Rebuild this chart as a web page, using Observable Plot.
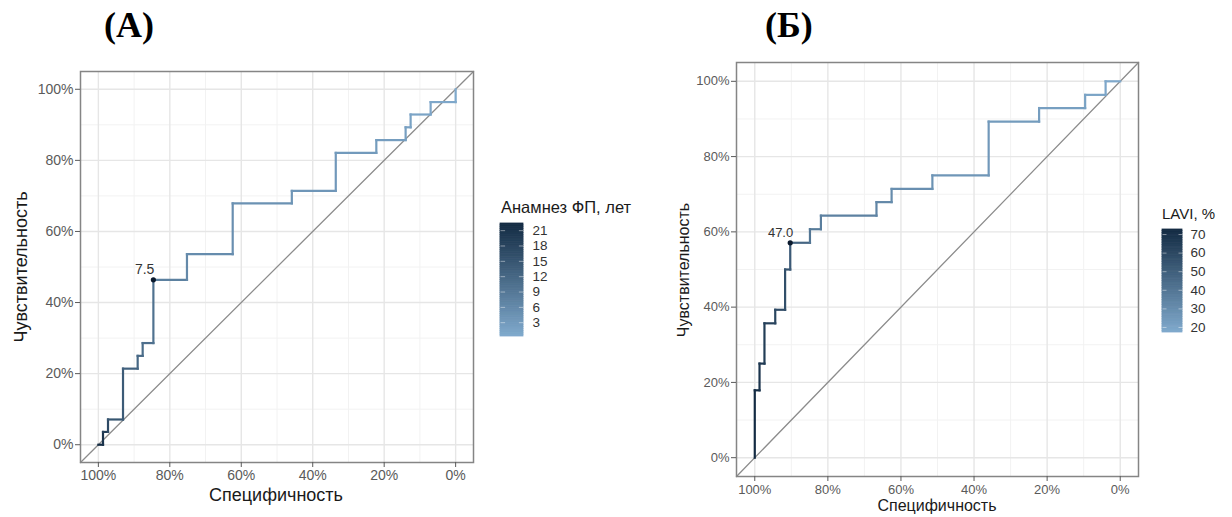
<!DOCTYPE html>
<html>
<head>
<meta charset="utf-8">
<script src="https://cdn.jsdelivr.net/npm/d3@7"></script>
<script src="https://cdn.jsdelivr.net/npm/@observablehq/plot@0.6"></script>
<style>
  html, body { margin: 0; padding: 0; background: #fff; }
  #root { position: relative; width: 1232px; height: 517px; overflow: hidden; background: #fff; font-family: "Liberation Sans", Arial, sans-serif; }
  .abs { position: absolute; }
  .title { font-family: "Liberation Serif", "Times New Roman", serif; font-weight: bold; font-size: 36px; color: #000; white-space: nowrap; line-height: 1; }
  .axt { color: #1a1a1a; white-space: nowrap; line-height: 1; }
  .rot { transform: translate(-50%, -50%) rotate(-90deg); }
  .ctr { transform: translate(-50%, -50%); }
  .legt { color: #1a1a1a; white-space: nowrap; line-height: 1; }
</style>
</head>
<body>
<div id="root"></div>
<script>
// ---------- data ----------
const pctTicks = [0, 0.2, 0.4, 0.6, 0.8, 1];
const minorTicks = [0.1, 0.3, 0.5, 0.7, 0.9];
const xDomain = [1.05, -0.05];
const yDomain = [-0.05, 1.05];

// Panel A: ROC path (specificity, sensitivity) and threshold (Анамнез ФП, лет)
const specA = [1, 0.987, 0.987, 0.973, 0.973, 0.931, 0.931, 0.890, 0.890, 0.876, 0.876, 0.846, 0.846, 0.752, 0.752, 0.624, 0.624, 0.4585, 0.4585, 0.3355, 0.3355, 0.222, 0.222, 0.140, 0.140, 0.126, 0.126, 0.070, 0.070, 0.0, 0.0];
const sensA = [0, 0, 0.036, 0.036, 0.071, 0.071, 0.214, 0.214, 0.25, 0.25, 0.286, 0.286, 0.464, 0.464, 0.536, 0.536, 0.679, 0.679, 0.714, 0.714, 0.821, 0.821, 0.857, 0.857, 0.893, 0.893, 0.929, 0.929, 0.964, 0.964, 1.0];
const thrA = [22.4, 21, 19, 17, 15, 14, 13, 12, 11.5, 11, 10.5, 10, 7.5, 6, 5.5, 5, 4.5, 4, 3.7, 3.4, 3.1, 2.8, 2.5, 2.2, 2, 1.7, 1.4, 1.1, 0.8, 0.5, 0.3];
const bestA = [{ spec: 0.846, sens: 0.464, label: "7.5" }];
const legendTicksA = [3, 6, 9, 12, 15, 18, 21];
const rangeA = [0.3, 22.4];

// Panel B: ROC path and threshold (LAVI, %)
const specB = [1, 1, 0.987, 0.987, 0.9735, 0.9735, 0.944, 0.944, 0.917, 0.917, 0.903, 0.903, 0.849, 0.849, 0.819, 0.819, 0.667, 0.667, 0.6256, 0.6256, 0.514, 0.514, 0.360, 0.360, 0.222, 0.222, 0.096, 0.096, 0.040, 0.040, 0];
const sensB = [0, 0.179, 0.179, 0.25, 0.25, 0.357, 0.357, 0.393, 0.393, 0.5, 0.5, 0.571, 0.571, 0.607, 0.607, 0.643, 0.643, 0.679, 0.679, 0.714, 0.714, 0.75, 0.75, 0.893, 0.893, 0.929, 0.929, 0.964, 0.964, 1.0, 1.0];
const thrB = [72.7, 71, 69, 67, 65, 63, 61, 59, 57, 55, 52, 47.0, 40, 38, 36.5, 35, 33.5, 32, 30.5, 29, 27.5, 26, 25, 24, 23, 22, 21, 20, 19, 18, 17.3];
const bestB = [{ spec: 0.903, sens: 0.571, label: "47.0" }];
const legendTicksB = [20, 30, 40, 50, 60, 70];
const rangeB = [17.3, 72.7];

const colorRange = ["#80aacd", "#132b43"];
const fontFamily = "'Liberation Sans', Arial, sans-serif";
const pct = d => Math.round(d * 100) + "%";

function rocPlot(cfg) {
  const n = cfg.spec.length;
  return Plot.plot({
    width: cfg.width, height: 517,
    marginLeft: cfg.ml, marginRight: cfg.mr, marginTop: cfg.mt, marginBottom: cfg.mb,
    style: { fontFamily, background: "transparent", overflow: "visible" },
    x: { domain: xDomain, axis: null },
    y: { domain: yDomain, axis: null },
    color: { type: "linear", domain: cfg.range, range: colorRange },
    marks: [
      Plot.gridX(minorTicks, { stroke: "#f2f2f2", strokeOpacity: 1, strokeWidth: 1 }),
      Plot.gridY(minorTicks, { stroke: "#f2f2f2", strokeOpacity: 1, strokeWidth: 1 }),
      Plot.gridX(pctTicks, { stroke: "#e6e6e6", strokeOpacity: 1, strokeWidth: 1.4 }),
      Plot.gridY(pctTicks, { stroke: "#e6e6e6", strokeOpacity: 1, strokeWidth: 1.4 }),
      Plot.line([0, 1], { x: i => xDomain[i], y: i => yDomain[i], stroke: "#8c8c8c", strokeWidth: 1.3 }),
      Plot.link(d3.range(n - 1), {
        x1: i => cfg.spec[i], y1: i => cfg.sens[i],
        x2: i => cfg.spec[i + 1], y2: i => cfg.sens[i + 1],
        stroke: i => cfg.thr[i], strokeWidth: 2.2, strokeLinecap: "square"
      }),
      Plot.dot(cfg.best, { x: "spec", y: "sens", r: 2.6, fill: "#0b1a2e", stroke: null }),
      Plot.text(cfg.best, { x: "spec", y: "sens", text: "label", textAnchor: "end", dx: cfg.ldx, dy: -10, fontSize: cfg.lfs, fill: "#333" }),
      Plot.frame({ stroke: "#858585", strokeWidth: 1.5 }),
      Plot.axisX(pctTicks, { tickSize: 5, tickPadding: cfg.tp, tickFormat: pct, fontSize: cfg.tfs, color: "#5a5a5a", label: null }),
      Plot.axisY(pctTicks, { tickSize: 5, tickPadding: 2, tickFormat: pct, fontSize: cfg.tfs, color: "#5a5a5a", label: null })
    ]
  });
}

function legendBar(cfg) {
  const steps = 60;
  const [lo, hi] = cfg.range;
  const slices = d3.range(steps).map(k => ({ a: lo + (hi - lo) * k / steps, b: lo + (hi - lo) * (k + 1) / steps }));
  return Plot.plot({
    width: cfg.barW + 40, height: cfg.barH + 10,
    marginLeft: 0, marginRight: 40, marginTop: 5, marginBottom: 5,
    style: { fontFamily, background: "transparent", overflow: "visible" },
    x: { domain: [0, 1], axis: null },
    y: { domain: cfg.range, axis: null },
    color: { type: "linear", domain: cfg.range, range: colorRange },
    marks: [
      Plot.rectY(slices, { x1: 0, x2: 1, y1: "a", y2: "b", fill: d => (d.a + d.b) / 2, stroke: d => (d.a + d.b) / 2, strokeWidth: 0.8 }),
      Plot.link(cfg.ticks, { x1: 0, x2: 0.2, y1: d => d, y2: d => d, stroke: "#ffffff", strokeOpacity: 0.45 }),
      Plot.link(cfg.ticks, { x1: 0.8, x2: 1, y1: d => d, y2: d => d, stroke: "#ffffff", strokeOpacity: 0.45 }),
      Plot.axisY(cfg.ticks, { anchor: "right", tickSize: 0, tickPadding: cfg.pad, fontSize: 13.5, color: "#333", label: null })
    ]
  });
}

const root = document.getElementById("root");
function place(el, left, top) {
  const d = document.createElement("div");
  d.className = "abs";
  d.style.left = left + "px"; d.style.top = top + "px";
  d.appendChild(el);
  root.appendChild(d);
}
function text(str, cls, left, top, size) {
  const d = document.createElement("div");
  d.className = "abs " + cls;
  d.style.left = left + "px"; d.style.top = top + "px";
  if (size) d.style.fontSize = size + "px";
  d.textContent = str;
  root.appendChild(d);
  return d;
}

// Panel A
place(rocPlot({ spec: specA, sens: sensA, thr: thrA, best: bestA, range: rangeA, width: 480, ml: 80, mr: 7, mt: 71, mb: 55, tfs: 14, tp: 3, ldx: 1, lfs: 14 }), 0, 0);
place(legendBar({ range: rangeA, ticks: legendTicksA, barW: 23, barH: 113, pad: 9 }), 500, 218);
text("Анамнез ФП, лет", "legt", 501, 199, 16.5);
text("Специфичность", "axt ctr", 276, 495, 18);
text("Чувствительность", "axt rot", 21, 267, 18);
text("(А)", "title", 104, 7);

// Panel B
place(rocPlot({ spec: specB, sens: sensB, thr: thrB, best: bestB, range: rangeB, width: 572, ml: 76, mr: 94, mt: 62, mb: 41, tfs: 13, tp: 3, ldx: 3, lfs: 13 }), 660, 0);
place(legendBar({ range: rangeB, ticks: legendTicksB, barW: 20, barH: 103, pad: 8 }), 1162, 224);
text("LAVI, %", "legt", 1162, 206, 15);
text("Специфичность", "axt ctr", 937, 506, 16);
text("Чувствительность", "axt rot", 684, 270, 16);
text("(Б)", "title", 765, 7);
</script>
</body>
</html>
